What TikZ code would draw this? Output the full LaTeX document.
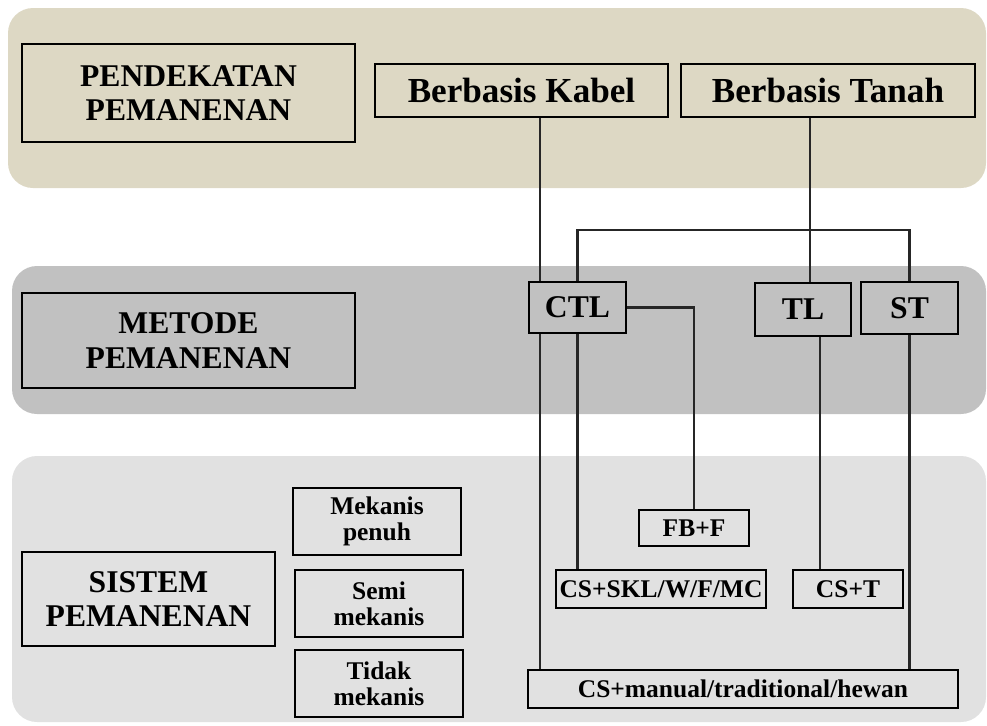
\documentclass[tikz,border=0pt]{standalone}
\usepackage{fontspec}
\setmainfont{Liberation Serif}
\usepackage{tikz}
\usetikzlibrary{calc}

\definecolor{tanband}{HTML}{DDD8C4}
\definecolor{grayband}{HTML}{C1C1C1}
\definecolor{lightband}{HTML}{E1E1E1}

\tikzset{
  bigbox/.style={draw, line width=1.1pt, align=center, inner sep=0pt,
    font=\fontsize{18}{19.5}\selectfont\bfseries},
  smallbox/.style={draw, line width=1.1pt, align=center, inner sep=0pt,
    font=\fontsize{14.5}{15}\selectfont\bfseries},
  link/.style={line width=1.4pt, black!85}
}

\begin{document}
\begin{tikzpicture}[x=0.2mm,y=-0.2mm]
\useasboundingbox (0,0) rectangle (987,725);

% the three bands
\fill[tanband, rounded corners=5mm] (8,8) rectangle (986,188);
\fill[grayband, rounded corners=5mm] (12,266) rectangle (986,414);
\fill[lightband, rounded corners=5mm] (12,456) rectangle (986,722);

\node[bigbox, minimum width=66.6mm, minimum height=19.6mm] (pend) at (188.5,93) {PENDEKATAN\\PEMANENAN};
\node[bigbox, minimum width=58.6mm, minimum height=10.6mm, font=\fontsize{20}{22}\selectfont\bfseries] (kabel) at (521.5,90.5) {Berbasis Kabel};
\node[bigbox, minimum width=58.8mm, minimum height=10.6mm, font=\fontsize{20}{22}\selectfont\bfseries] (tanah) at (828,90.5) {Berbasis Tanah};

\node[bigbox, minimum width=66.6mm, minimum height=19mm] (metode) at (188.5,340.5) {METODE\\PEMANENAN};
\node[bigbox, minimum width=19.4mm, minimum height=10.2mm] (ctl) at (577.5,307.5) {CTL};
\node[bigbox, minimum width=19.2mm, minimum height=10.6mm] (tl) at (803,309.5) {TL};
\node[bigbox, minimum width=19.4mm, minimum height=10.4mm] (st) at (909.5,308) {ST};

\node[bigbox, minimum width=50.6mm, minimum height=18.8mm] (sistem) at (148.5,599) {SISTEM\\PEMANENAN};
\node[smallbox, minimum width=33.6mm, minimum height=13.4mm] (mek) at (377,521.5) {Mekanis\\penuh};
\node[smallbox, minimum width=33.6mm, minimum height=13.4mm] (semi) at (379,603.5) {Semi\\mekanis};
\node[smallbox, minimum width=33.6mm, minimum height=13.4mm] (tidak) at (379,683.5) {Tidak\\mekanis};

\node[smallbox, minimum width=22mm, minimum height=7.2mm] (fbf) at (694,528) {FB+F};
\node[smallbox, minimum width=42mm, minimum height=7.6mm] (skl) at (661,589) {CS+SKL/W/F/MC};
\node[smallbox, minimum width=22mm, minimum height=7.6mm] (cst) at (848,589) {CS+T};
\node[smallbox, minimum width=86mm, minimum height=7.6mm] (manual) at (743,689) {CS+manual/traditional/hewan};

\coordinate (kx) at (540,0);
\coordinate (tx) at (810,0);
\coordinate (lx) at (820,0);
\coordinate (bar) at (0,230);

\draw[link] (kabel.south -| kx) -- (ctl.north -| kx);
\draw[link] (tanah.south -| tx) -- (tl.north -| tx);
\draw[link] (ctl.north) |- (bar -| st.north) -- (st.north);
\draw[link] (ctl.east) -| (fbf.north);
\draw[link] (ctl.south) -- (ctl.south |- skl.north);
\draw[link] (ctl.south -| kx) -- (manual.north -| kx);
\draw[link] (tl.south -| lx) -- (cst.north -| lx);
\draw[link] (st.south) -- (st.south |- manual.north);

\end{tikzpicture}
\end{document}
